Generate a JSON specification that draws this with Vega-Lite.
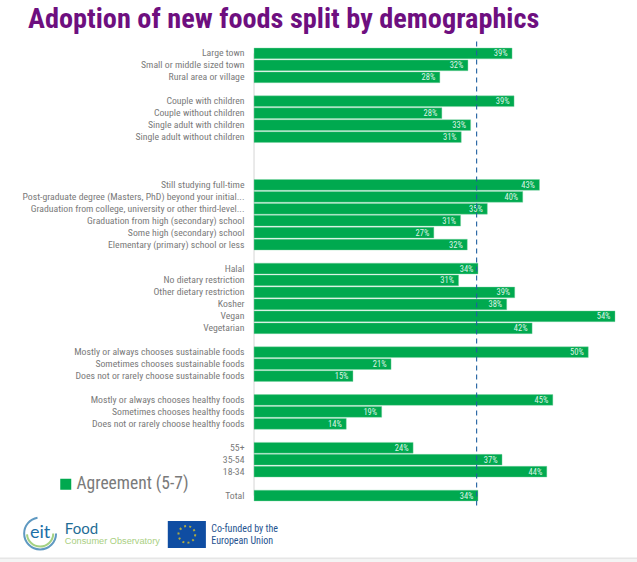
{"$schema":"https://vega.github.io/schema/vega-lite/v6.json","autosize":"none","width":637,"height":525.8,"padding":{"top":35.5,"left":0,"right":0,"bottom":0.7},"background":"white","config":{"view":{"stroke":null}},
"title":{"text":"Adoption of new foods split by demographics","anchor":"start","frame":"group","dx":28,"offset":1,"font":"Roboto Condensed, Lato","fontSize":28.3,"fontWeight":"bold","color":"#6E0F7F"},
"data":{"values":[
{"row":"Large town","value":38.6,"pct":"39%","series":"Agreement (5-7)"},
{"row":"Small or middle sized town","value":32,"pct":"32%","series":"Agreement (5-7)"},
{"row":"Rural area or village","value":27.8,"pct":"28%","series":"Agreement (5-7)"},
{"row":"Couple with children","value":38.9,"pct":"39%","series":"Agreement (5-7)"},
{"row":"Couple without children","value":28.1,"pct":"28%","series":"Agreement (5-7)"},
{"row":"Single adult with children","value":32.4,"pct":"33%","series":"Agreement (5-7)"},
{"row":"Single adult without children","value":31,"pct":"31%","series":"Agreement (5-7)"},
{"row":"Still studying full-time","value":42.7,"pct":"43%","series":"Agreement (5-7)"},
{"row":"Post-graduate degree (Masters, PhD) beyond your initial...","value":40.2,"pct":"40%","series":"Agreement (5-7)"},
{"row":"Graduation from college, university or other third-level...","value":34.9,"pct":"35%","series":"Agreement (5-7)"},
{"row":"Graduation from high (secondary) school","value":30.9,"pct":"31%","series":"Agreement (5-7)"},
{"row":"Some high (secondary) school","value":26.9,"pct":"27%","series":"Agreement (5-7)"},
{"row":"Elementary (primary) school or less","value":31.9,"pct":"32%","series":"Agreement (5-7)"},
{"row":"Halal","value":33.5,"pct":"34%","series":"Agreement (5-7)"},
{"row":"No dietary restriction","value":30.6,"pct":"31%","series":"Agreement (5-7)"},
{"row":"Other dietary restriction","value":39,"pct":"39%","series":"Agreement (5-7)"},
{"row":"Kosher","value":37.8,"pct":"38%","series":"Agreement (5-7)"},
{"row":"Vegan","value":54,"pct":"54%","series":"Agreement (5-7)"},
{"row":"Vegetarian","value":41.6,"pct":"42%","series":"Agreement (5-7)"},
{"row":"Mostly or always chooses sustainable foods","value":50,"pct":"50%","series":"Agreement (5-7)"},
{"row":"Sometimes chooses sustainable foods","value":20.5,"pct":"21%","series":"Agreement (5-7)"},
{"row":"Does not or rarely choose sustainable foods","value":14.8,"pct":"15%","series":"Agreement (5-7)"},
{"row":"Mostly or always chooses healthy foods","value":44.7,"pct":"45%","series":"Agreement (5-7)"},
{"row":"Sometimes chooses healthy foods","value":19.1,"pct":"19%","series":"Agreement (5-7)"},
{"row":"Does not or rarely choose healthy foods","value":13.8,"pct":"14%","series":"Agreement (5-7)"},
{"row":"55+","value":23.8,"pct":"24%","series":"Agreement (5-7)"},
{"row":"35-54","value":37.1,"pct":"37%","series":"Agreement (5-7)"},
{"row":"18-34","value":43.8,"pct":"44%","series":"Agreement (5-7)"},
{"row":"Total","value":33.5,"pct":"34%","series":"Agreement (5-7)"}
]},
"encoding":{"y":{"field":"row","type":"nominal","title":null,"sort":null,
"scale":{"paddingInner":0.1,"paddingOuter":0.05,"domain":["_t","Large town","Small or middle sized town","Rural area or village","_a","Couple with children","Couple without children","Single adult with children","Single adult without children","_b","_c","_d","Still studying full-time","Post-graduate degree (Masters, PhD) beyond your initial...","Graduation from college, university or other third-level...","Graduation from high (secondary) school","Some high (secondary) school","Elementary (primary) school or less","_e","Halal","No dietary restriction","Other dietary restriction","Kosher","Vegan","Vegetarian","_f","Mostly or always chooses sustainable foods","Sometimes chooses sustainable foods","Does not or rarely choose sustainable foods","_g","Mostly or always chooses healthy foods","Sometimes chooses healthy foods","Does not or rarely choose healthy foods","_h","55+","35-54","18-34","_i","Total","_f1","_f2","_f3","_f4","_f5"]},
"axis":{"orient":"left","offset":-244,"domain":false,"ticks":false,"grid":false,"labelPadding":0,"labelLimit":300,"labelFont":"Roboto Condensed, Lato","labelFontSize":9.75,"labelColor":"#7A7A7A","labelExpr":"indexof(datum.label,'_')==0 ? '' : datum.label"}},
"x":{"type":"quantitative","title":null,"axis":null,"scale":{"domain":[-38,57.29],"nice":false,"zero":false}}},
"layer":[
{"data":{"values":[{"from":"Large town","to":"Total","base":0}]},"mark":{"type":"rule","color":"#D5D5D5","strokeWidth":1},"encoding":{"x":{"field":"base","type":"quantitative"},"y":{"field":"from"},"y2":{"field":"to"}}},
{"mark":{"type":"bar","stroke":"#7FD3A5","strokeWidth":0.4},"encoding":{"x":{"field":"value","type":"quantitative"},"color":{"field":"series","type":"nominal","scale":{"range":["#00A94F"]},"legend":{"title":null,"orient":"none","legendX":57,"legendY":440,"symbolType":"square","symbolSize":121,"symbolStrokeWidth":0,"labelFont":"Roboto Condensed, Lato","labelFontSize":17.5,"labelColor":"#7A7A7A","labelOffset":2}}}},
{"mark":{"type":"text","align":"right","dx":-4.5,"color":"#DDF3E6","font":"Roboto Condensed, Lato","fontSize":8.5},"encoding":{"x":{"field":"value","type":"quantitative"},"text":{"field":"pct"}}},
{"data":{"values":[{"from":"_t","to":"_f1","benchmark":33.3}]},"mark":{"type":"rule","color":"#1F5FA0","strokeWidth":1.1,"strokeDash":[5,4]},"encoding":{"x":{"field":"benchmark","type":"quantitative"},"y":{"field":"from"},"y2":{"field":"to"}}},
{"data":{"values":[{"row":"_f5","start":-38,"end":57.29}]},"mark":{"type":"bar","height":4,"yOffset":4.8,"color":"#F4F4F4"},"encoding":{"x":{"field":"start","type":"quantitative"},"x2":{"field":"end"}}},
{"data":{"values":[{"row":"_f5","start":-38,"end":57.29}]},"mark":{"type":"rule","yOffset":2.8,"color":"#DCDCDC"},"encoding":{"x":{"field":"start","type":"quantitative"},"x2":{"field":"end"}}},
{"data":{"values":[{"row":"_f3","at":-32}]},"mark":{"type":"point","size":1018,"filled":false,"yOffset":2,"stroke":"#1C6FA8","strokeWidth":2,"strokeDash":[72,41]},"encoding":{"x":{"field":"at","type":"quantitative"}}},
{"data":{"values":[{"row":"_f3","at":-32}]},"mark":{"type":"point","size":690,"filled":false,"yOffset":2,"stroke":"#7DBE4E","strokeWidth":2,"strokeDash":[40,53]},"encoding":{"x":{"field":"at","type":"quantitative"}}},
{"data":{"values":[{"row":"_f3","at":-32,"label":"eit"}]},"mark":{"type":"text","dy":2,"color":"#1C6FA8","font":"Lato","fontSize":18},"encoding":{"x":{"field":"at","type":"quantitative"},"text":{"field":"label"}}},
{"data":{"values":[{"row":"_f3","at":-28.3,"label":"Food"}]},"mark":{"type":"text","align":"left","dy":-2,"color":"#1F6D96","font":"Lato","fontSize":15},"encoding":{"x":{"field":"at","type":"quantitative"},"text":{"field":"label"}}},
{"data":{"values":[{"row":"_f4","at":-28.3,"label":"Consumer Observatory"}]},"mark":{"type":"text","align":"left","dy":-2,"color":"#A9CF82","font":"Liberation Sans","fontSize":9.2},"encoding":{"x":{"field":"at","type":"quantitative"},"text":{"field":"label"}}},
{"data":{"values":[{"row":"_f3","start":-12.9,"end":-7.2}]},"mark":{"type":"bar","height":27,"yOffset":3,"color":"#0F4DA2"},"encoding":{"x":{"field":"start","type":"quantitative"},"x2":{"field":"end"}}},
{"data":{"values":[{"row":"_f3","at":-10.05}]},"mark":{"type":"point","size":280,"filled":false,"yOffset":3,"stroke":"#F2D21B","strokeWidth":2,"strokeDash":[2,3.2]},"encoding":{"x":{"field":"at","type":"quantitative"}}},
{"data":{"values":[{"row":"_f3","at":-6.4,"label":"Co-funded by the"}]},"mark":{"type":"text","align":"left","dy":-2,"color":"#1F5390","font":"Roboto Condensed, Lato","fontSize":10},"encoding":{"x":{"field":"at","type":"quantitative"},"text":{"field":"label"}}},
{"data":{"values":[{"row":"_f4","at":-6.4,"label":"European Union"}]},"mark":{"type":"text","align":"left","dy":-2,"color":"#1F5390","font":"Roboto Condensed, Lato","fontSize":10},"encoding":{"x":{"field":"at","type":"quantitative"},"text":{"field":"label"}}}
]}
